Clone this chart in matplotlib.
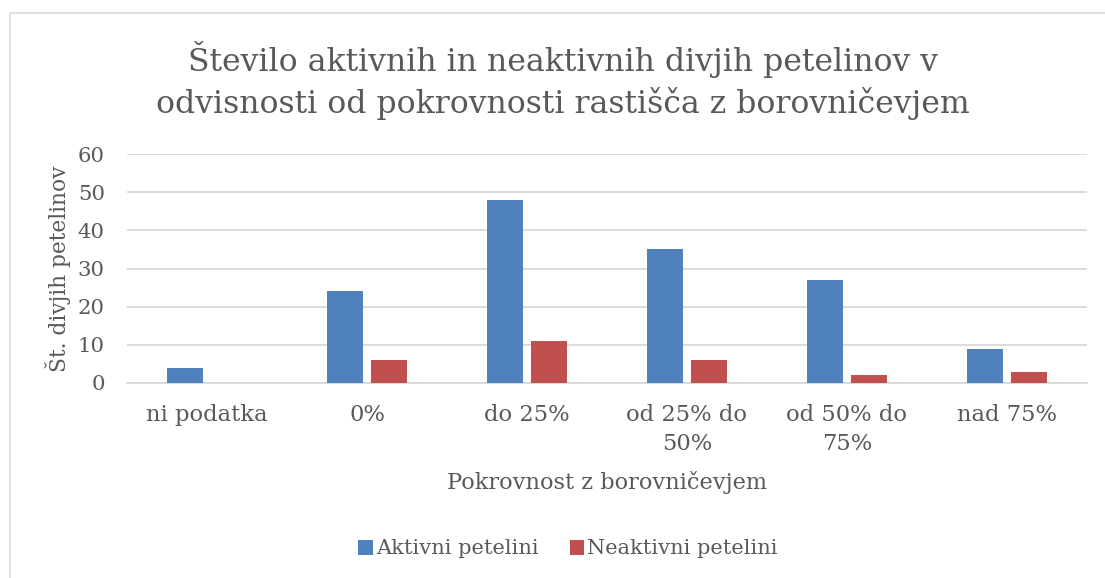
import matplotlib
matplotlib.use("Agg")
import matplotlib.pyplot as plt
import numpy as np
from matplotlib.patches import Rectangle

categories = ["ni podatka", "0%", "do 25%", "od 25% do\n50%", "od 50% do\n75%", "nad 75%"]
aktivni = [4, 24, 48, 35, 27, 9]
neaktivni = [0, 6, 11, 6, 2, 3]
series_names = ["Aktivni petelini", "Neaktivni petelini"]
yticks = [0, 10, 20, 30, 40, 50, 60]

FONT = "DejaVu Serif"
TXT = "#595959"
BLUE = "#4f81bd"
RED = "#c0504d"
GRID = "#d9d9d9"

plt.rcParams["font.family"] = [FONT]

fig = plt.figure(figsize=(11.05, 5.78), dpi=100)
fig.patches.append(Rectangle((10/1105, -0.05), 1.2, (578-13)/578 + 0.05,
                             transform=fig.transFigure, fill=False,
                             edgecolor=GRID, linewidth=1.2))

ax = fig.add_axes([127/1105, 195/578, (1087-127)/1105, (383-154)/578])
x = np.arange(len(categories))
w = 0.225
off = 0.14
ax.bar(x - off, aktivni, w, color=BLUE, label=series_names[0], zorder=3)
ax.bar(x + off, neaktivni, w, color=RED, label=series_names[1], zorder=3)

ax.set_xlim(-0.5, len(categories) - 0.5)
ax.set_ylim(0, 60)
ax.set_yticks(yticks)
ax.set_yticklabels([str(v) for v in yticks], fontsize=15.3, color=TXT)
ax.set_xticks(x)
ax.set_xticklabels(categories, fontsize=16.3, color=TXT, linespacing=1.4)
ax.tick_params(axis="both", length=0)
ax.tick_params(axis="y", pad=16)
ax.tick_params(axis="x", pad=15)
ax.grid(axis="y", color=GRID, linewidth=1.3, zorder=0)
for s in ["top", "right", "left"]:
    ax.spines[s].set_visible(False)
ax.spines["bottom"].set_color(GRID)
ax.spines["bottom"].set_linewidth(1.3)

ax.set_ylabel("Št. divjih petelinov", fontsize=15.7, color=TXT, labelpad=5)
ax.set_xlabel("Pokrovnost z borovničevjem", fontsize=16.2, color=TXT, labelpad=12)

fig.text(563/1105, 1 - 60/578, "Število aktivnih in neaktivnih divjih petelinov v",
         ha="center", va="center", fontsize=22.7, color=TXT)
fig.text(563/1105, 1 - 103/578, "odvisnosti od pokrovnosti rastišča z borovničevjem",
         ha="center", va="center", fontsize=22.7, color=TXT)

fig.legend(loc="center", bbox_to_anchor=(568/1105, 1 - 549/578), ncol=2,
           frameon=False, fontsize=15, labelcolor=TXT, handlelength=0.7,
           handleheight=0.7, handletextpad=0.15, columnspacing=1.5)

fig.savefig("out.png", dpi=100)
